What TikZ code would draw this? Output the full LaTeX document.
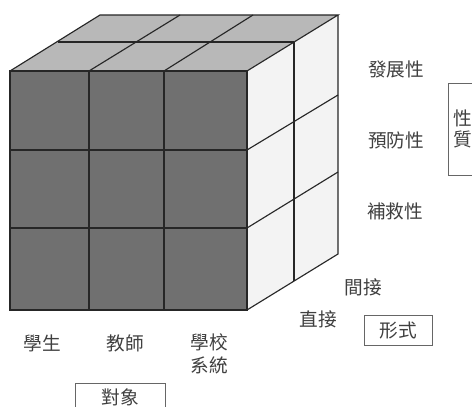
\documentclass[tikz,border=0pt]{standalone}
\usepackage{fontspec}
\setmainfont{Noto Sans CJK TC}
\definecolor{frontgray}{HTML}{707070}
\definecolor{topgray}{HTML}{B8B8B8}
\definecolor{sidegray}{HTML}{F3F3F3}
\definecolor{labelgray}{HTML}{404040}
\tikzset{
  cubeline/.style={line width=0.85pt, draw=black!85},
  axislabel/.style={text=labelgray, font=\fontsize{14}{17}\selectfont, inner sep=0pt},
  axisbox/.style={axislabel, draw=black!60, line width=0.55pt, align=center},
}
\begin{document}
\begin{tikzpicture}[x=0.75pt,y=-0.75pt]
    \useasboundingbox (0,0) rectangle (472,407);
    \fill[white] (0,0) rectangle (472,407);
    \fill[frontgray] (10,71) -- (247,71) -- (247,310) -- (10,310) --cycle;
    \fill[topgray] (10,71) -- (100,15) -- (338,15) -- (247,71) --cycle;
    \fill[sidegray] (247,71) -- (338,15) -- (338,254) -- (247,310) --cycle;
    % front
    \draw[cubeline] (10,71) -- (247,71) -- (247,310) -- (10,310) --cycle;
    \draw[cubeline] (89,71) -- (89,310);
    \draw[cubeline] (164,71) -- (164,310);
    \draw[cubeline] (10,150) -- (247,150);
    \draw[cubeline] (10,228) -- (247,228);
    % top
    \draw[cubeline] (10,71) -- (100,15) -- (338,15) -- (247,71);
    \draw[cubeline] (58,42) -- (294,42);
    \draw[cubeline] (89,71) -- (180,15);
    \draw[cubeline] (164,71) -- (253,15);
    % side
    \draw[cubeline] (338,15) -- (338,254) -- (247,310);
    \draw[cubeline] (294,42) -- (294,281);
    \draw[cubeline] (247,150) -- (338,95);
    \draw[cubeline] (247,228) -- (338,172);
    % labels
    \node[axislabel] (fazhan) at (396,69) {發展性};
    \node[axislabel] (yufang) at (396,140) {預防性};
    \node[axislabel] (bujiu) at (395,211) {補救性};
    \node[axisbox,minimum width=22.5pt,minimum height=69pt] (xingzhi) at (463,129) {性\\[-1.5pt]質};
    \node[axislabel] (jianjie) at (363,287) {間接};
    \node[axislabel] (zhijie) at (318,319) {直接};
    \node[axisbox,minimum width=51pt,minimum height=22.5pt] (xingshi) at (398,330) {形式};
    \node[axislabel] (xuesheng) at (42,343) {學生};
    \node[axislabel] (jiaoshi) at (125,343) {教師};
    \node[axislabel,align=center] (xuexiao) at (209,354) {學校\\[0pt]系統};
    \node[axisbox,minimum width=67.5pt,minimum height=21pt] (duixiang) at (120,397) {對象};
  \end{tikzpicture}
\end{document}
